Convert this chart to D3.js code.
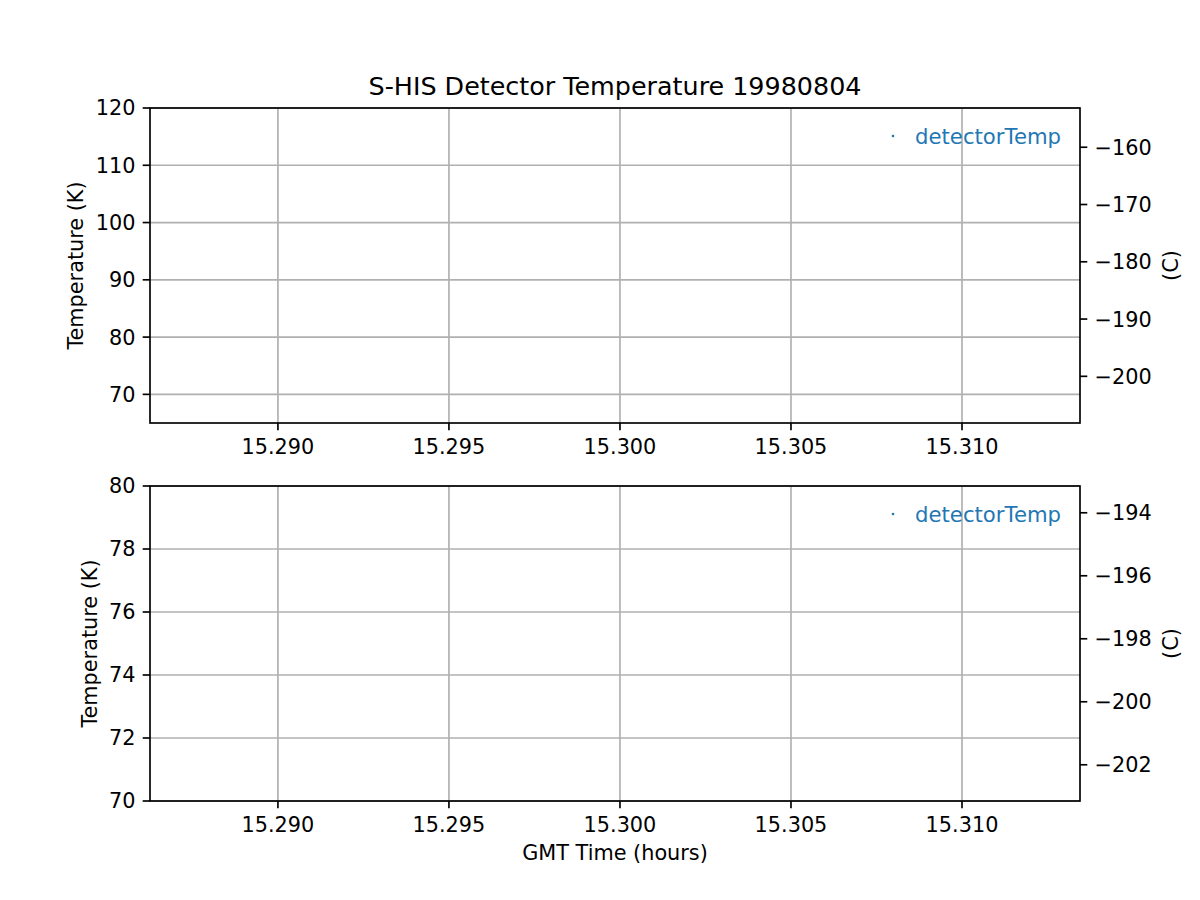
<!DOCTYPE html>
<html>
<head>
<meta charset="utf-8">
<script src="https://cdn.jsdelivr.net/npm/d3@7"></script>
<style>
  body { margin: 0; background: #fff; }
  svg { display: block; font-family: "DejaVu Sans", sans-serif; }
</style>
</head>
<body>
<div id="chart"></div>
<script>
'use strict';
// data (no samples fall inside the plotted window)
const timeHours = [];
const detectorTempK = [];
const seriesName = "detectorTemp";

const xDomain = [15.28626, 15.31345];
const xTicks = [15.290, 15.295, 15.300, 15.305, 15.310];

const topKDomain = [65, 120];
const topKTicks = [70, 80, 90, 100, 110, 120];
const topCTicks = [-160, -170, -180, -190, -200];

const botKDomain = [70, 80];
const botKTicks = [70, 72, 74, 76, 78, 80];
const botCTicks = [-194, -196, -198, -200, -202];

const K2C = 273.15;
const titleText = "S-HIS Detector Temperature 19980804";

const W = 1200, H = 900;
const left = 150, right = 1080;
const lw = 1.67, tickLen = 7.3, pad = 7.3, fs = 20.8;
const blue = "#1f77b4";

const svg = d3.select("#chart").append("svg")
  .attr("width", W).attr("height", H);
svg.append("rect").attr("width", W).attr("height", H).attr("fill", "#fff");

const x = d3.scaleLinear().domain(xDomain).range([left, right]);

svg.append("text")
  .attr("x", (left + right) / 2).attr("y", 95)
  .attr("text-anchor", "middle")
  .style("font-size", "25.4px")
  .text(titleText);

function drawPanel(top, bottom, kDomain, kTicks, cTicks, yLabelX) {
  const y = d3.scaleLinear().domain(kDomain).range([bottom, top]);
  const yc = d3.scaleLinear().domain(kDomain.map(d => d - K2C)).range([bottom, top]);
  const g = svg.append("g");

  // grid
  g.selectAll(".vgrid").data(xTicks).enter().append("line")
    .attr("x1", d => x(d)).attr("x2", d => x(d))
    .attr("y1", top).attr("y2", bottom)
    .attr("stroke", "#b0b0b0").attr("stroke-width", lw);
  g.selectAll(".hgrid").data(kTicks).enter().append("line")
    .attr("x1", left).attr("x2", right)
    .attr("y1", d => y(d)).attr("y2", d => y(d))
    .attr("stroke", "#b0b0b0").attr("stroke-width", lw);

  // data points
  const pts = timeHours.map((t, i) => ({t: t, v: detectorTempK[i]}))
    .filter(d => d.t >= xDomain[0] && d.t <= xDomain[1] && d.v >= kDomain[0] && d.v <= kDomain[1]);
  g.selectAll(".pt").data(pts).enter().append("circle")
    .attr("cx", d => x(d.t)).attr("cy", d => y(d.v)).attr("r", 1.5)
    .attr("fill", blue);

  // ticks + labels
  g.selectAll(".xt").data(xTicks).enter().append("line")
    .attr("x1", d => x(d)).attr("x2", d => x(d))
    .attr("y1", bottom).attr("y2", bottom + tickLen)
    .attr("stroke", "#000").attr("stroke-width", lw);
  g.selectAll(".xl").data(xTicks).enter().append("text")
    .attr("x", d => x(d)).attr("y", bottom + 31)
    .attr("text-anchor", "middle").style("font-size", fs + "px")
    .text(d3.format(".3f"));

  g.selectAll(".yt").data(kTicks).enter().append("line")
    .attr("x1", left - tickLen).attr("x2", left)
    .attr("y1", d => y(d)).attr("y2", d => y(d))
    .attr("stroke", "#000").attr("stroke-width", lw);
  g.selectAll(".yl").data(kTicks).enter().append("text")
    .attr("x", left - tickLen - pad).attr("y", d => y(d)).attr("dy", "0.36em")
    .attr("text-anchor", "end").style("font-size", fs + "px")
    .text(d3.format("d"));

  g.selectAll(".ct").data(cTicks).enter().append("line")
    .attr("x1", right).attr("x2", right + tickLen)
    .attr("y1", d => yc(d)).attr("y2", d => yc(d))
    .attr("stroke", "#000").attr("stroke-width", lw);
  g.selectAll(".cl").data(cTicks).enter().append("text")
    .attr("x", right + tickLen + pad).attr("y", d => yc(d)).attr("dy", "0.36em")
    .attr("text-anchor", "start").style("font-size", fs + "px")
    .text(d3.format("d"));

  // spines
  g.append("rect")
    .attr("x", left).attr("y", top)
    .attr("width", right - left).attr("height", bottom - top)
    .attr("fill", "none").attr("stroke", "#000").attr("stroke-width", lw);

  // axis titles
  g.append("text")
    .attr("transform", `translate(${yLabelX},${(top + bottom) / 2}) rotate(-90)`)
    .attr("text-anchor", "middle").style("font-size", fs + "px")
    .text("Temperature (K)");
  g.append("text")
    .attr("transform", `translate(1178,${(top + bottom) / 2}) rotate(-90)`)
    .attr("text-anchor", "middle").style("font-size", fs + "px")
    .text("(C)");

  // legend
  g.append("circle")
    .attr("cx", 893).attr("cy", top + 28).attr("r", 1.3).attr("fill", blue);
  g.append("text")
    .attr("x", 1061).attr("y", top + 35.5)
    .attr("text-anchor", "end").style("font-size", "21.2px")
    .attr("fill", blue)
    .text(seriesName);
}

drawPanel(108, 423, topKDomain, topKTicks, topCTicks, 83);
drawPanel(486, 801, botKDomain, botKTicks, botCTicks, 97);
svg.append("text")
  .attr("x", (left + right) / 2).attr("y", 860)
  .attr("text-anchor", "middle").style("font-size", fs + "px")
  .text("GMT Time (hours)");
</script>
</body>
</html>
